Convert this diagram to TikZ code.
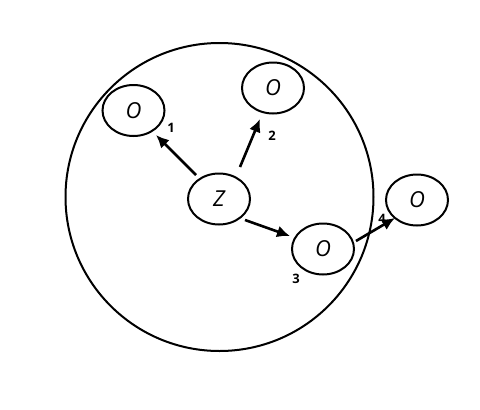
\documentclass[tikz,border=0pt]{standalone}
\usepackage{fontspec}
\setsansfont{Open Sans}
\usetikzlibrary{arrows.meta,shapes.geometric}
\begin{document}
\begin{tikzpicture}[x=1pt,y=-1pt,
  var/.style={draw,line width=2pt,ellipse,minimum width=62pt,minimum height=51pt,inner sep=0pt,font=\fontsize{22}{22}\sffamily\itshape},
  conn/.style={line width=2.6pt,-{Latex[length=13pt,width=12pt]}},
  lbl/.style={font=\fontsize{13}{13}\sffamily\bfseries}]
\useasboundingbox (0,0) rectangle (480,410);
\node[draw,line width=2pt,circle,minimum size=308pt,inner sep=0pt] (big) at (219.5,197) {};
\node[var] (z) at (219,199) {Z};
\node[var] (o1) at (133.5,110.5) {O};
\node[var] (o2) at (273,88) {O};
\node[var] (o3) at (323,249) {O};
\node[var] (o4) at (417,200) {O};
\coordinate (s1) at (196,175);
\coordinate (e1) at (156,135);
\coordinate (s2) at (240,167);
\coordinate (e2) at (260,119);
\coordinate (s3) at (245,220);
\coordinate (e3) at (290,236);
\coordinate (s4) at (356,241);
\coordinate (e4) at (395,218);
\draw[conn] (s1) -- (e1);
\draw[conn] (s2) -- (e2);
\draw[conn] (s3) -- (e3);
\draw[conn] (s4) -- (e4);
\node[lbl] (l1) at (171,128) {1};
\node[lbl] (l2) at (272,136) {2};
\node[lbl] (l3) at (296,279) {3};
\node[lbl] (l4) at (382,219) {4};
\end{tikzpicture}
\end{document}
